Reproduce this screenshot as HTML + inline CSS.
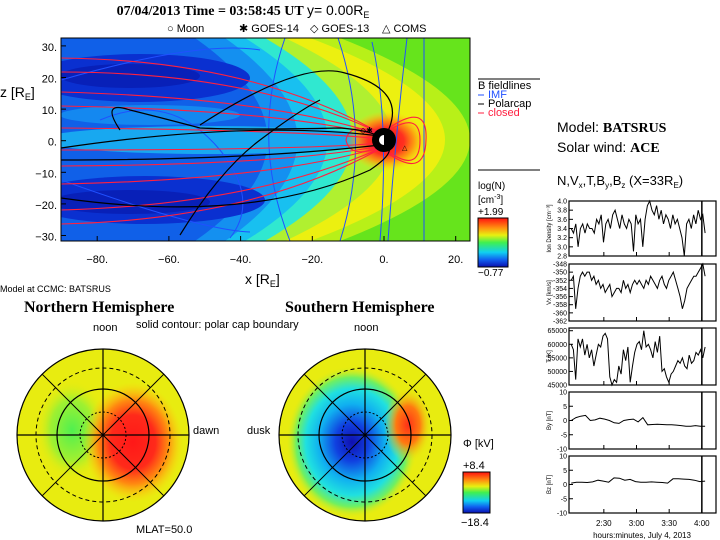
<!DOCTYPE html>
<html><head><meta charset="utf-8"><style>
body{margin:0;background:#fff;}
svg{display:block;font-family:"Liberation Sans",sans-serif;}
.t{font-size:11px;}
</style></head><body>
<svg id="root" width="720" height="540" viewBox="0 0 720 540">
<defs>
<radialGradient id="gEarth" cx="0.5" cy="0.5" r="0.5">
<stop offset="0" stop-color="#ff1010"/><stop offset="0.45" stop-color="#ff3020"/><stop offset="0.7" stop-color="#ff9010" stop-opacity="0.9"/><stop offset="1" stop-color="#ffd010" stop-opacity="0"/></radialGradient>
<radialGradient id="gRed" cx="0.5" cy="0.5" r="0.5"><stop offset="0" stop-color="#ff1818"/><stop offset="0.45" stop-color="#ff2a1a"/><stop offset="0.7" stop-color="#ff8a10"/><stop offset="1" stop-color="#ffd010" stop-opacity="0"/></radialGradient>
<radialGradient id="gGreen" cx="0.5" cy="0.5" r="0.5"><stop offset="0" stop-color="#50f050"/><stop offset="0.6" stop-color="#a0f030"/><stop offset="1" stop-color="#e8ec10" stop-opacity="0"/></radialGradient>
<radialGradient id="gBlue" cx="0.5" cy="0.5" r="0.5"><stop offset="0" stop-color="#1010b0"/><stop offset="0.25" stop-color="#1040e0"/><stop offset="0.5" stop-color="#10b0f0"/><stop offset="0.7" stop-color="#20e0e0"/><stop offset="0.85" stop-color="#70f060"/><stop offset="1" stop-color="#e8ec10" stop-opacity="0"/></radialGradient>
<radialGradient id="gOr" cx="0.5" cy="0.5" r="0.5"><stop offset="0" stop-color="#ff3018"/><stop offset="0.5" stop-color="#ff7a10"/><stop offset="1" stop-color="#e8ec10" stop-opacity="0"/></radialGradient>
<linearGradient id="cbar" x1="0" y1="1" x2="0" y2="0"><stop offset="0" stop-color="#0a10b0"/><stop offset="0.15" stop-color="#1060f0"/><stop offset="0.3" stop-color="#10d0f0"/><stop offset="0.5" stop-color="#40f050"/><stop offset="0.65" stop-color="#e8f010"/><stop offset="0.8" stop-color="#ff9010"/><stop offset="1" stop-color="#ff1010"/></linearGradient>
<clipPath id="cpTop"><rect x="61" y="38" width="409" height="203"/></clipPath>
<clipPath id="cpN"><circle cx="103" cy="435" r="86"/></clipPath>
<clipPath id="cpS"><circle cx="365" cy="435" r="86"/></clipPath>
</defs>

<text x="243" y="15" text-anchor="middle" font-family="Liberation Serif,serif" font-weight="bold" font-size="14">07/04/2013 Time = 03:58:45 UT <tspan font-family="Liberation Sans" font-weight="normal">y= 0.00R<tspan font-size="9" dy="3">E</tspan></tspan></text>
<g class="t">
<text x="167" y="32">○ Moon</text><text x="239" y="32">✱ GOES-14</text><text x="310" y="32">◇ GOES-13</text><text x="382" y="32">△ COMS</text></g>

<g clip-path="url(#cpTop)">
<rect x="61" y="38" width="409" height="203" fill="#66e41c"/>
<path d="M61,38 L340,38 Q600,140 340,241 L61,241Z" fill="#b8f018"/>
<path d="M61,38 L310,38 Q580,140 310,241 L61,241Z" fill="#ecf010"/>
<path d="M61,38 L285,38 Q500,140 285,241 L61,241Z" fill="#b0f030"/>
<path d="M61,38 L265,38 Q440,140 265,241 L61,241Z" fill="#30e8d0"/>
<path d="M61,38 L245,38 Q410,140 245,241 L61,241Z" fill="#18c0f0"/>
<path d="M61,38 L225,38 Q370,140 225,241 L61,241Z" fill="#1490f0"/>
<path d="M61,38 L195,38 Q340,140 195,241 L61,241Z" fill="#1060e8"/>
<ellipse cx="140" cy="78" rx="110" ry="24" fill="#0a30d0"/>
<ellipse cx="145" cy="200" rx="120" ry="24" fill="#0a30d0"/>
<ellipse cx="130" cy="76" rx="70" ry="12" fill="#0820b8"/>
<ellipse cx="130" cy="202" rx="80" ry="12" fill="#0820b8"/>
<ellipse cx="210" cy="140" rx="170" ry="14" fill="#18a8f0"/>
<ellipse cx="150" cy="115" rx="90" ry="10" fill="#1488f0"/>
<ellipse cx="386" cy="141" rx="40" ry="30" fill="url(#gEarth)"/>
<g fill="none" stroke="#2050ff" stroke-width="1">
<path d="M424,38 L424,241"/><path d="M407,38 Q395,140 388,241"/><path d="M338,38 Q372,140 340,241"/>
<path d="M285,38 Q250,140 290,241"/><path d="M372,42 Q390,120 380,241"/>
<path d="M61,80 Q200,40 260,50"/><path d="M61,180 Q200,230 250,232"/>
<path d="M100,120 Q170,90 220,150 Q260,200 230,238"/></g>
<g fill="none" stroke="#ff2040" stroke-width="1.1">
<path d="M61,58 Q250,60 378,132"/><path d="M61,72 Q250,72 380,133"/><path d="M61,92 Q270,98 381,135"/>
<path d="M61,106 Q280,110 381,136"/><path d="M61,128 Q300,130 382,139"/><path d="M61,150 Q300,150 382,143"/>
<path d="M61,166 Q280,165 381,146"/><path d="M61,184 Q270,180 381,147"/>
<path d="M61,210 Q250,205 379,149"/><path d="M61,224 Q250,220 378,150"/>
<path d="M386,132 Q420,110 420,140 Q420,175 386,150"/><path d="M386,130 Q428,100 426,140 Q425,180 386,152"/>
<path d="M384,135 Q350,120 346,140 Q350,160 384,146"/></g>
<g fill="none" stroke="#000" stroke-width="1.2">
<path d="M61,148 Q250,120 380,136"/><path d="M61,160 Q250,160 380,145"/>
<path d="M61,198 Q250,225 370,170 Q400,150 384,142"/>
<path d="M200,125 Q300,60 345,73 Q410,90 386,135"/>
<path d="M120,130 Q100,100 130,110 Q170,120 200,128 Q240,130 340,128 Q370,130 382,138"/>
<path d="M180,235 Q220,170 260,140 Q300,110 320,100"/></g>
<circle cx="384" cy="140" r="12" fill="#000"/><path d="M384,135 A5,5 0 0 0 384,145Z" fill="#fff"/>
<text x="360" y="133" font-size="8">◇✱</text><text x="402" y="150" font-size="7">△</text>
</g>
<rect x="61" y="38" width="409" height="203" fill="none" stroke="#000"/>
<g id="topAxes" class="t" font-size="13"></g>
<text x="0" y="97" font-size="14">z [R<tspan font-size="9" dy="3">E</tspan><tspan dy="-3">]</tspan></text>
<text x="245" y="284" font-size="14">x [R<tspan font-size="9" dy="3">E</tspan><tspan dy="-3">]</tspan></text>
<text x="0" y="292" font-size="9">Model at CCMC: BATSRUS</text>

<g class="t" font-size="9">
<line x1="478" y1="79" x2="540" y2="79" stroke="#000"/>
<text x="478" y="89">B fieldlines</text>
<line x1="478" y1="95" x2="484" y2="95" stroke="#2050ff"/><text x="488" y="98" fill="#2050ff">IMF</text>
<line x1="478" y1="104" x2="484" y2="104" stroke="#000"/><text x="488" y="107">Polarcap</text>
<line x1="478" y1="113" x2="484" y2="113" stroke="#ff2040"/><text x="488" y="116" fill="#ff2040">closed</text>
<line x1="478" y1="170" x2="540" y2="170" stroke="#000"/>
</g>
<g font-size="10">
<text x="478" y="189">log(N)</text><text x="478" y="203">[cm<tspan font-size="7" dy="-4">-3</tspan><tspan dy="4">]</tspan></text>
<text x="478" y="215">+1.99</text>
<rect x="478" y="218" width="30" height="49" fill="url(#cbar)" stroke="#000"/>
<text x="478" y="276">−0.77</text></g>

<g font-size="14">
<text x="557" y="132">Model: <tspan font-family="Liberation Serif,serif" font-weight="bold">BATSRUS</tspan></text>
<text x="557" y="152">Solar wind: <tspan font-family="Liberation Serif,serif" font-weight="bold">ACE</tspan></text>
<text x="557" y="185" font-size="13">N,V<tspan font-size="8" dy="3">x</tspan><tspan dy="-3">,T,B</tspan><tspan font-size="8" dy="3">y</tspan><tspan dy="-3">,B</tspan><tspan font-size="8" dy="3">z</tspan><tspan dy="-3"> (X=33R</tspan><tspan font-size="8" dy="3">E</tspan><tspan dy="-3">)</tspan></text></g>

<g font-family="Liberation Serif,serif" font-weight="bold" font-size="16">
<text x="24" y="312">Northern Hemisphere</text>
<text x="285" y="312">Southern Hemisphere</text></g>
<g font-size="11">
<text x="93" y="331">noon</text>
<text x="354" y="331">noon</text>
<text x="136" y="328">solid contour: polar cap boundary</text>
<text x="193" y="434">dawn</text>
<text x="247" y="434">dusk</text>
<text x="136" y="533">MLAT=50.0</text></g>
<g clip-path="url(#cpN)">
<circle cx="103" cy="435" r="86" fill="#e8ec10"/>
<ellipse cx="72" cy="430" rx="36" ry="50" fill="url(#gGreen)"/>
<ellipse cx="133" cy="442" rx="50" ry="60" fill="url(#gRed)"/></g>
<g clip-path="url(#cpS)">
<circle cx="365" cy="435" r="86" fill="#e8ec10"/>
<ellipse cx="352" cy="442" rx="66" ry="76" fill="url(#gBlue)"/>
<ellipse cx="408" cy="425" rx="24" ry="38" fill="url(#gOr)"/></g>
<g id="polarGrids" fill="none" stroke="#000"></g>
<g font-size="11">
<text x="463" y="447">Φ [kV]</text><text x="463" y="469">+8.4</text>
<rect x="463" y="472" width="27" height="41" fill="url(#cbar)" stroke="#000"/>
<text x="461" y="526">−18.4</text></g>

<g id="series"></g>
</svg>
<script>
const NS='http://www.w3.org/2000/svg';
function el(p,t,a){const e=document.createElementNS(NS,t);for(const k in a)e.setAttribute(k,a[k]);p.appendChild(e);return e;}
const xTicks=[-80,-60,-40,-20,0,20];
const zTicks=[30,20,10,0,-10,-20,-30];
const X=v=>384+v*3.585, Z=v=>140.7-v*3.16;
const ta=document.getElementById('topAxes');
xTicks.forEach(v=>{const t=el(ta,'text',{x:X(v),y:263,'text-anchor':'middle'});t.textContent=(v<0?'−':'')+Math.abs(v)+'.';


el(ta,'line',{x1:X(v),y1:241,x2:X(v),y2:236,stroke:'#000'});});
zTicks.forEach(v=>{const t=el(ta,'text',{x:57,y:Z(v)+5,'text-anchor':'end'});t.textContent=(v<0?'−':'')+Math.abs(v)+'.';


el(ta,'line',{x1:61,y1:Z(v),x2:66,y2:Z(v),stroke:'#000'});});
const pg=document.getElementById('polarGrids');
[[103,435],[365,435]].forEach(([cx,cy])=>{
el(pg,'circle',{cx,cy,r:86,'stroke-width':1.2});
el(pg,'circle',{cx,cy,r:46,'stroke-width':1.2});
el(pg,'circle',{cx,cy,r:67,'stroke-dasharray':'4,3'});
el(pg,'circle',{cx,cy,r:23,'stroke-dasharray':'2,2'});
el(pg,'line',{x1:cx-86,y1:cy,x2:cx+86,y2:cy,'stroke-width':1.2});
el(pg,'line',{x1:cx,y1:cy-86,x2:cx,y2:cy+86,'stroke-width':1.2});
const d=86*0.7071;
el(pg,'line',{x1:cx-d,y1:cy-d,x2:cx+d,y2:cy+d});
el(pg,'line',{x1:cx-d,y1:cy+d,x2:cx+d,y2:cy-d});});

const nVals=[3.4,3.3,3.5,3.0,3.4,3.5,3.3,3.5,3.4,3.4,3.3,3.6,3.5,3.7,3.1,3.5,3.6,3.4,3.7,3.8,3.6,3.4,3.7,3.5,3.4,3.6,3.5,2.9,3.7,3.5,3.6,3.0,3.6,3.9,4.0,3.8,3.7,3.9,3.6,3.8,3.5,3.7,3.6,3.4,3.7,3.5,3.6,3.4,3.2,2.8,3.5,3.6,3.4,3.7,3.5,3.8,3.6,3.7,3.3];
const vxVals=[-352,-351,-359,-354,-351,-350,-351,-350,-350,-352,-351,-353,-352,-354,-353,-355,-354,-353,-356,-355,-354,-354,-355,-352,-354,-353,-355,-353,-352,-353,-352,-353,-354,-352,-353,-351,-352,-353,-354,-352,-351,-353,-354,-352,-351,-350,-352,-354,-356,-359,-357,-354,-353,-352,-351,-351,-350,-349,-348,-351];
const tVals=[60000,58000,47000,62000,59000,62000,56000,60000,55000,58000,52000,56000,60000,59000,63000,64000,62000,48000,45000,47000,46000,52000,49000,58000,54000,59000,46000,52000,57000,60000,61000,58000,65000,59000,60000,58000,55000,61000,57000,63000,50000,51000,48000,46000,49000,50000,52000,54000,53000,55000,52000,51000,56000,53000,54000,57000,56000,58000,55000,59000];
const byVals=[0,1,1.5,1.8,0,0.2,0.8,0.5,0,-0.8,-1,0,0.3,0.5,-0.5,1,-1.5,-1.4,-1.3,-1.4,-1.5,-1.5,-1.6,-1.8,-2,-2,-1.8,-2,-2];
const bzVals=[0.5,0.8,0.8,0.7,0.9,1.5,1.2,0.8,2.3,2.2,1.5,1.8,1,0.8,0.8,0.9,0.8,0.7,0.5,2.0,2.0,1.9,1.8,1.5,1.0,1.2];
const nTicks=['2.8','3.0','3.2','3.4','3.6','3.8','4.0'];
const vxTicks=['-362','-360','-358','-356','-354','-352','-350','-348'];
const tempTicks=['45000','50000','55000','60000','65000'];
const bTicks=['-10','-5','0','5','10'];
const timeTicks=[150,180,210,240];
const timeLabels=['2:30','3:00','3:30','4:00'];
const tStart=120,tEnd=243,tMin=118,tMax=253;
const TX=t=>569+(t-tMin)*(716-569)/(tMax-tMin);
const panels=[
 {vals:nVals,ticks:nTicks,lo:2.8,hi:4.0,y0:201,y1:256,lab:'Ion Density [cm⁻³]',name:'density'},
 {vals:vxVals,ticks:vxTicks,lo:-362,hi:-348,y0:264,y1:321,lab:'Vx [km/s]',name:'vx'},
 {vals:tVals,ticks:tempTicks,lo:45000,hi:66000,y0:328,y1:385,lab:'T [K]',name:'temperature'},
 {vals:byVals,ticks:bTicks,lo:-10,hi:10,y0:392,y1:449,lab:'By [nT]',name:'by'},
 {vals:bzVals,ticks:bTicks,lo:-10,hi:10,y0:456,y1:513,lab:'Bz [nT]',name:'bz'}];
const sg=document.getElementById('series');
panels.forEach(p=>{
 const g=el(sg,'g',{});
 
 
 const Y=v=>p.y1-(v-p.lo)/(p.hi-p.lo)*(p.y1-p.y0);
 el(g,'rect',{x:569,y:p.y0,width:147,height:p.y1-p.y0,fill:'none',stroke:'#000','stroke-width':1.2});
 p.ticks.forEach(s=>{const v=+s;el(g,'line',{x1:569,y1:Y(v),x2:573,y2:Y(v),stroke:'#000'});
  const t=el(g,'text',{x:567,y:Y(v)+2.5,'text-anchor':'end','font-size':7});t.textContent=s;});
 timeTicks.forEach(t=>el(g,'line',{x1:TX(t),y1:p.y1,x2:TX(t),y2:p.y1-4,stroke:'#000'}));
 const lab=el(g,'text',{x:0,y:0,'font-size':6,'text-anchor':'middle',transform:`translate(551,${(p.y0+p.y1)/2}) rotate(-90)`});lab.textContent=p.lab;
 const n=p.vals.length;
 const pts=p.vals.map((v,i)=>TX(tStart+i*(tEnd-tStart)/(n-1)).toFixed(1)+','+Y(v).toFixed(1)).join(' ');
 const pl=el(g,'polyline',{points:pts,fill:'none',stroke:'#000','stroke-width':1});
 
 
 el(g,'line',{x1:TX(240),y1:p.y0,x2:TX(240),y2:p.y1,stroke:'#000','stroke-width':1.5});
});
timeLabels.forEach((s,i)=>{const t=el(sg,'text',{x:TX(timeTicks[i]),y:526,'text-anchor':'middle','font-size':8});t.textContent=s;

});
const xl=el(sg,'text',{x:642,y:538,'text-anchor':'middle','font-size':8});xl.textContent='hours:minutes, July  4, 2013';


</script>
</body></html>
